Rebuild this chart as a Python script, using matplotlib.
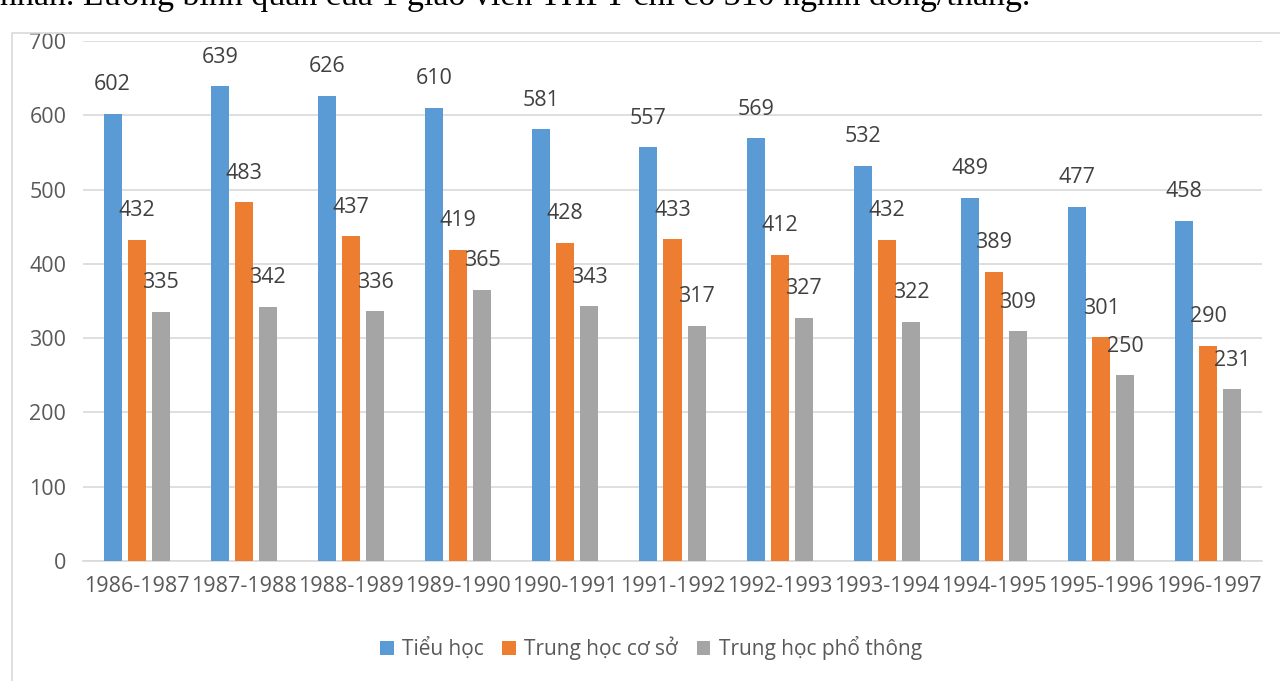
import matplotlib.pyplot as plt
import numpy as np
from matplotlib.patches import Rectangle

# Salary data by school year (thousand dong / month)
years = ["1986-1987", "1987-1988", "1988-1989", "1989-1990", "1990-1991",
         "1991-1992", "1992-1993", "1993-1994", "1994-1995", "1995-1996",
         "1996-1997"]
tieu_hoc = [602, 639, 626, 610, 581, 557, 569, 532, 489, 477, 458]
thcs = [432, 483, 437, 419, 428, 433, 412, 432, 389, 301, 290]
thpt = [335, 342, 336, 365, 343, 317, 327, 322, 309, 250, 231]
series_names = ["Tiểu học", "Trung học cơ sở", "Trung học phổ thông"]

colors = ["#5B9BD5", "#ED7D31", "#A5A5A5"]
text_color = "#595959"
fonts = ["Open Sans", "DejaVu Sans"]

fig = plt.figure(figsize=(12.8, 6.81), dpi=100)

# chart frame
fig.patches.append(Rectangle((12 / 1280, -0.1), 1.2, 1 - 33 / 681 + 0.1,
                             transform=fig.transFigure, fill=False,
                             edgecolor="#D9D9D9", linewidth=1.2))

# line of document text above the chart, partly off the page
fig.text(0.0, 1 - 5 / 681,
         "nhân. Lương bình quân của 1 giáo viên THPT chỉ có 310 nghìn đồng/tháng.",
         family=["Liberation Serif", "DejaVu Serif"], fontsize=24.5,
         va="baseline", ha="left", color="black")

ax = fig.add_axes([83 / 1280, 1 - 561 / 681, (1262 - 83) / 1280, (561 - 41) / 681])

x = np.arange(len(years))
width = 0.168
step = 0.224
for i, (vals, name) in enumerate(zip([tieu_hoc, thcs, thpt], series_names)):
    pos = x + (i - 1) * step
    bars = ax.bar(pos, vals, width, color=colors[i], label=name, zorder=3)
    for b, v in zip(bars, vals):
        ax.annotate(str(v), (b.get_x() + b.get_width() / 2, v),
                    xytext=(0, 21), textcoords="offset points",
                    ha="center", va="center", fontsize=15.5,
                    color="#404040", family=fonts)

ax.set_xlim(-0.5, len(years) - 0.5)
ax.set_ylim(0, 700)
ax.set_yticks(range(0, 701, 100))
ax.set_xticks(x)
ax.set_xticklabels(years)
ax.grid(axis="y", color="#D9D9D9", linewidth=1.2, zorder=0)
for s in ["top", "right", "left"]:
    ax.spines[s].set_visible(False)
ax.spines["bottom"].set_color("#D9D9D9")
ax.spines["bottom"].set_linewidth(1.2)
ax.tick_params(axis="both", length=0, labelsize=15.5, colors=text_color)
ax.tick_params(axis="y", pad=12)
ax.tick_params(axis="x", pad=11)
for lbl in ax.get_xticklabels() + ax.get_yticklabels():
    lbl.set_family(fonts)

leg = fig.legend(loc="center", bbox_to_anchor=(651 / 1280, 1 - 648 / 681),
                 ncol=3, frameon=False, handlelength=0.65,
                 handleheight=0.65, handletextpad=0.4, columnspacing=0.9,
                 prop={"family": fonts, "size": 15})
for t in leg.get_texts():
    t.set_color(text_color)

fig.savefig("out.png", dpi=100)
